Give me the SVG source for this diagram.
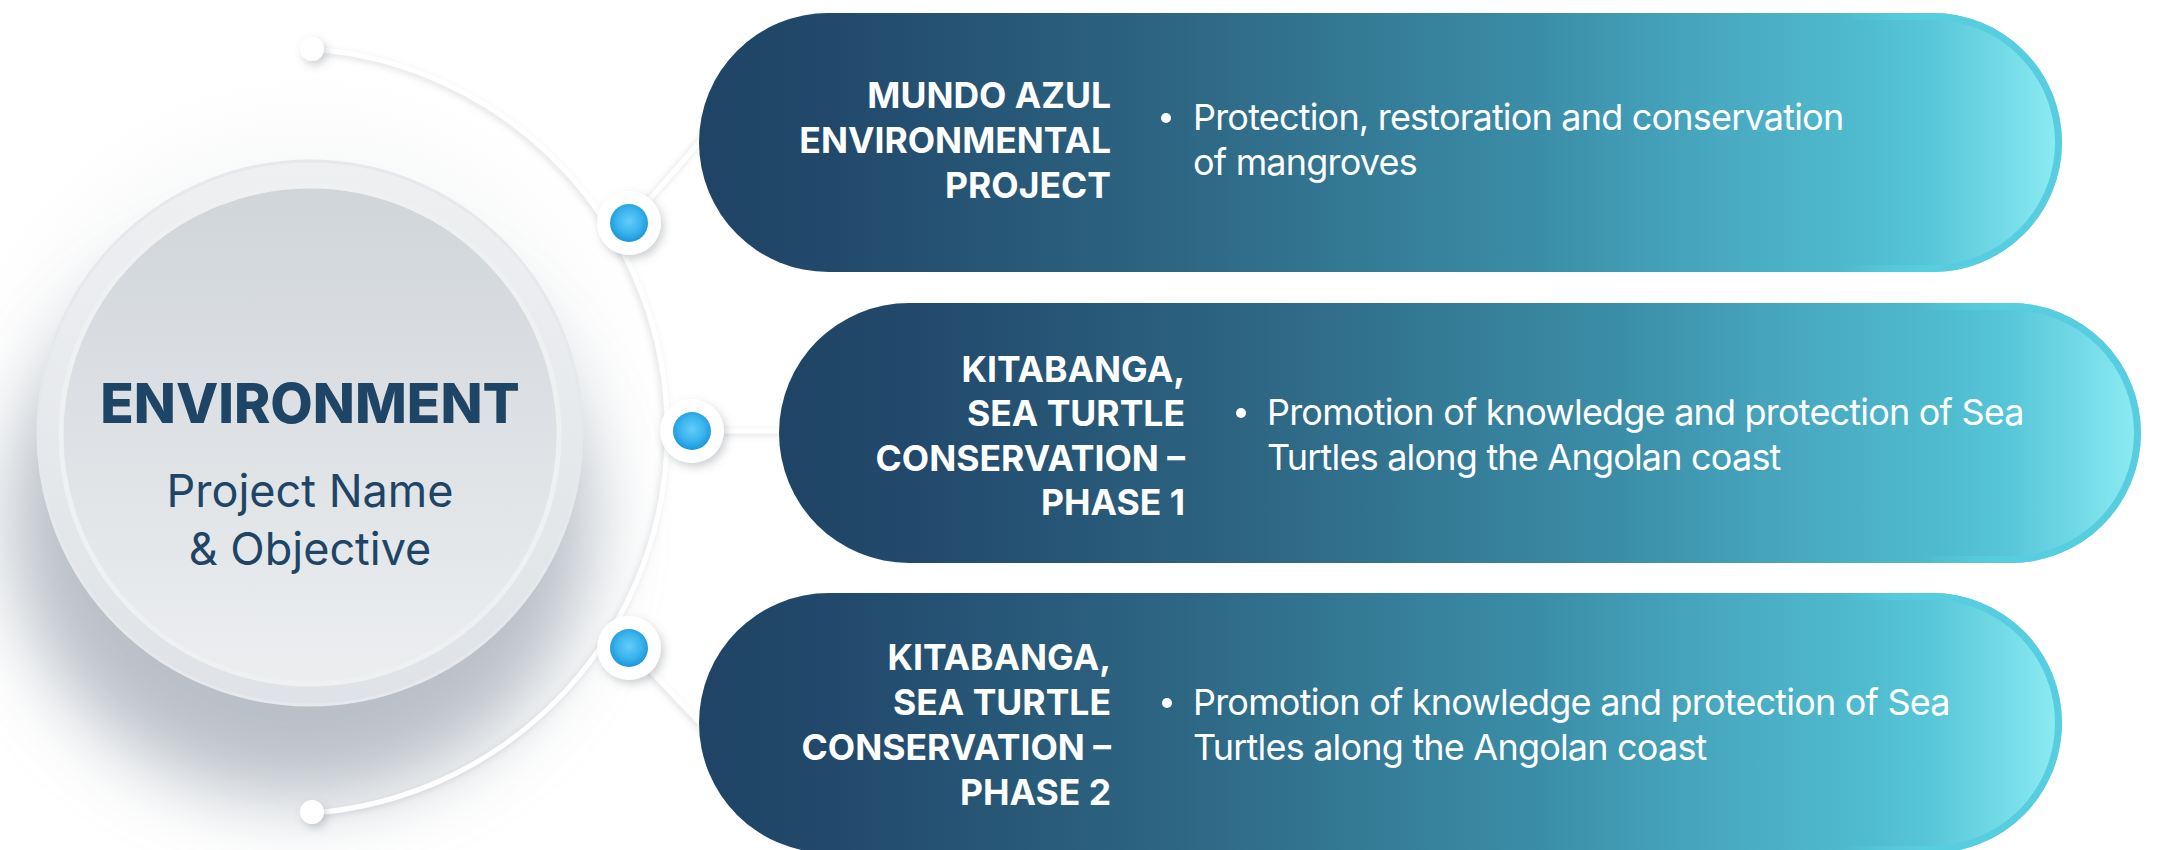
<svg xmlns="http://www.w3.org/2000/svg" width="2157" height="850" viewBox="0 0 2157 850">
  <defs>
    <style>
      .title { font-family: Inter, "Noto Sans", "Liberation Sans", sans-serif; font-weight: 700; font-size: 35.5px; fill: #ffffff; text-anchor: end; }
      .body { font-family: Inter, "Noto Sans", "Liberation Sans", sans-serif; font-weight: 400; font-size: 36px; letter-spacing: -0.8px; fill: #ffffff; }
      .hub-title { font-family: Inter, "Noto Sans", "Liberation Sans", sans-serif; font-weight: 800; font-size: 55px; fill: #1f4566; text-anchor: middle; }
      .hub-sub { font-family: Inter, "Noto Sans", "Liberation Sans", sans-serif; font-weight: 400; font-size: 45px; fill: #1f4566; text-anchor: middle; }
      .spoke { stroke: #ffffff; stroke-width: 5; fill: none; stroke-linecap: round; }
    </style>
    <linearGradient id="pillFill" x1="0" y1="0" x2="1" y2="0">
      <stop offset="0" stop-color="#1f4465"/>
      <stop offset="0.1" stop-color="#22496b"/>
      <stop offset="0.35" stop-color="#2d6683"/>
      <stop offset="0.62" stop-color="#3b8ea8"/>
      <stop offset="0.75" stop-color="#48a9c1"/>
      <stop offset="0.86" stop-color="#50bccf"/>
      <stop offset="0.9" stop-color="#57c5d8"/>
      <stop offset="0.95" stop-color="#6fd8e5"/>
      <stop offset="1" stop-color="#8eecf3"/>
    </linearGradient>
    <linearGradient id="pillRim" x1="0" y1="0" x2="1" y2="0">
      <stop offset="0" stop-color="#57cde0" stop-opacity="0"/>
      <stop offset="0.84" stop-color="#57cde0" stop-opacity="0"/>
      <stop offset="0.9" stop-color="#57cde0" stop-opacity="1"/>
      <stop offset="1" stop-color="#57cde0" stop-opacity="1"/>
    </linearGradient>
    <linearGradient id="hubOuter" x1="0" y1="0" x2="0" y2="1">
      <stop offset="0" stop-color="#eef0f2"/>
      <stop offset="1" stop-color="#dfe2e6"/>
    </linearGradient>
    <linearGradient id="hubInner" x1="0" y1="0" x2="0" y2="1">
      <stop offset="0" stop-color="#d0d5da"/>
      <stop offset="1" stop-color="#eceef0"/>
    </linearGradient>
    <radialGradient id="dotBlue" cx="0.5" cy="0.45" r="0.55">
      <stop offset="0" stop-color="#62cdfb"/>
      <stop offset="0.6" stop-color="#3ab3ec"/>
      <stop offset="1" stop-color="#1a96da"/>
    </radialGradient>
    <radialGradient id="arcHaze" cx="0.5" cy="0.5" r="0.5">
      <stop offset="0.6" stop-color="#eef0f2" stop-opacity="0.7"/>
      <stop offset="1" stop-color="#ffffff" stop-opacity="0"/>
    </radialGradient>
    <filter id="hubShadow" x="-50%" y="-50%" width="200%" height="200%">
      <feGaussianBlur stdDeviation="38"/>
    </filter>
    <filter id="nodeShadow" x="-50%" y="-50%" width="200%" height="200%">
      <feDropShadow dx="3" dy="4" stdDeviation="4" flood-color="#5a6470" flood-opacity="0.3"/>
    </filter>
    <filter id="lineShadow" x="-20%" y="-20%" width="140%" height="140%">
      <feDropShadow dx="-2" dy="2" stdDeviation="3" flood-color="#8a939c" flood-opacity="0.3"/>
    </filter>
  </defs>

  <rect width="2157" height="850" fill="#ffffff"/>

  <!-- soft haze inside the arc -->
  <circle cx="309" cy="431" r="383" fill="url(#arcHaze)"/>

  <!-- central hub -->
  <g id="hub">
    <ellipse cx="300" cy="525" rx="290" ry="275" fill="#8f99a4" opacity="0.6" filter="url(#hubShadow)"/>
    <circle cx="310" cy="433" r="272" fill="url(#hubOuter)" stroke="#e6e9ec" stroke-width="3"/>
    <circle cx="310" cy="435" r="249" fill="url(#hubInner)" stroke="#eef0f2" stroke-width="5"/>
    <text class="hub-title" x="310" y="423">ENVIRONMENT</text>
    <text class="hub-sub" x="310" y="507">Project Name</text>
    <text class="hub-sub" x="310" y="565">&amp; Objective</text>
  </g>

  <!-- connectors: arc and spokes -->
  <g id="connectors" filter="url(#lineShadow)">
    <path class="spoke" d="M 312 49 A 383 383 0 0 1 312 813"/>
    <line class="spoke" x1="629" y1="223" x2="705" y2="136"/>
    <line class="spoke" x1="692" y1="431" x2="785" y2="431"/>
    <line class="spoke" x1="629" y1="648" x2="705" y2="728"/>
  </g>

  <!-- arc end caps -->
  <g id="cap-top" filter="url(#nodeShadow)">
    <circle cx="312" cy="49" r="12" fill="#ffffff"/>
  </g>
  <g id="cap-bottom" filter="url(#nodeShadow)">
    <circle cx="312" cy="812" r="12" fill="#ffffff"/>
  </g>

  <!-- node markers -->
  <g id="marker-1">
    <circle cx="629" cy="223" r="32" fill="#ffffff" filter="url(#nodeShadow)"/>
    <circle cx="629" cy="223" r="19" fill="url(#dotBlue)"/>
  </g>
  <g id="marker-2">
    <circle cx="692" cy="431" r="32" fill="#ffffff" filter="url(#nodeShadow)"/>
    <circle cx="692" cy="431" r="19" fill="url(#dotBlue)"/>
  </g>
  <g id="marker-3">
    <circle cx="629" cy="648" r="32" fill="#ffffff" filter="url(#nodeShadow)"/>
    <circle cx="629" cy="648" r="19" fill="url(#dotBlue)"/>
  </g>

  <!-- project 1 -->
  <g id="project-1">
    <rect x="699" y="13" width="1363" height="259" rx="129.5" fill="url(#pillFill)"/>
    <rect x="702.5" y="16.5" width="1356" height="252" rx="126" fill="none" stroke="url(#pillRim)" stroke-width="7"/>
    <text class="title" x="1111" y="108">MUNDO AZUL</text>
    <text class="title" x="1111" y="153">ENVIRONMENTAL</text>
    <text class="title" x="1111" y="198">PROJECT</text>
    <circle cx="1166" cy="118" r="5" fill="#ffffff"/>
    <text class="body" x="1193" y="130">Protection, restoration and conservation</text>
    <text class="body" x="1193" y="175">of mangroves</text>
  </g>

  <!-- project 2 -->
  <g id="project-2">
    <rect x="779" y="303" width="1362" height="260" rx="130" fill="url(#pillFill)"/>
    <rect x="782.5" y="306.5" width="1355" height="253" rx="126.5" fill="none" stroke="url(#pillRim)" stroke-width="7"/>
    <text class="title" x="1185" y="382">KITABANGA,</text>
    <text class="title" x="1185" y="426">SEA TURTLE</text>
    <text class="title" x="1185" y="471">CONSERVATION –</text>
    <text class="title" x="1185" y="515">PHASE 1</text>
    <circle cx="1241" cy="413" r="5" fill="#ffffff"/>
    <text class="body" x="1267" y="425">Promotion of knowledge and protection of Sea</text>
    <text class="body" x="1267" y="470">Turtles along the Angolan coast</text>
  </g>

  <!-- project 3 -->
  <g id="project-3">
    <rect x="699" y="593" width="1363" height="260" rx="130" fill="url(#pillFill)"/>
    <rect x="702.5" y="596.5" width="1356" height="253" rx="126.5" fill="none" stroke="url(#pillRim)" stroke-width="7"/>
    <text class="title" x="1111" y="670">KITABANGA,</text>
    <text class="title" x="1111" y="715">SEA TURTLE</text>
    <text class="title" x="1111" y="760">CONSERVATION –</text>
    <text class="title" x="1111" y="805">PHASE 2</text>
    <circle cx="1167" cy="703" r="5" fill="#ffffff"/>
    <text class="body" x="1193" y="715">Promotion of knowledge and protection of Sea</text>
    <text class="body" x="1193" y="760">Turtles along the Angolan coast</text>
  </g>
</svg>
